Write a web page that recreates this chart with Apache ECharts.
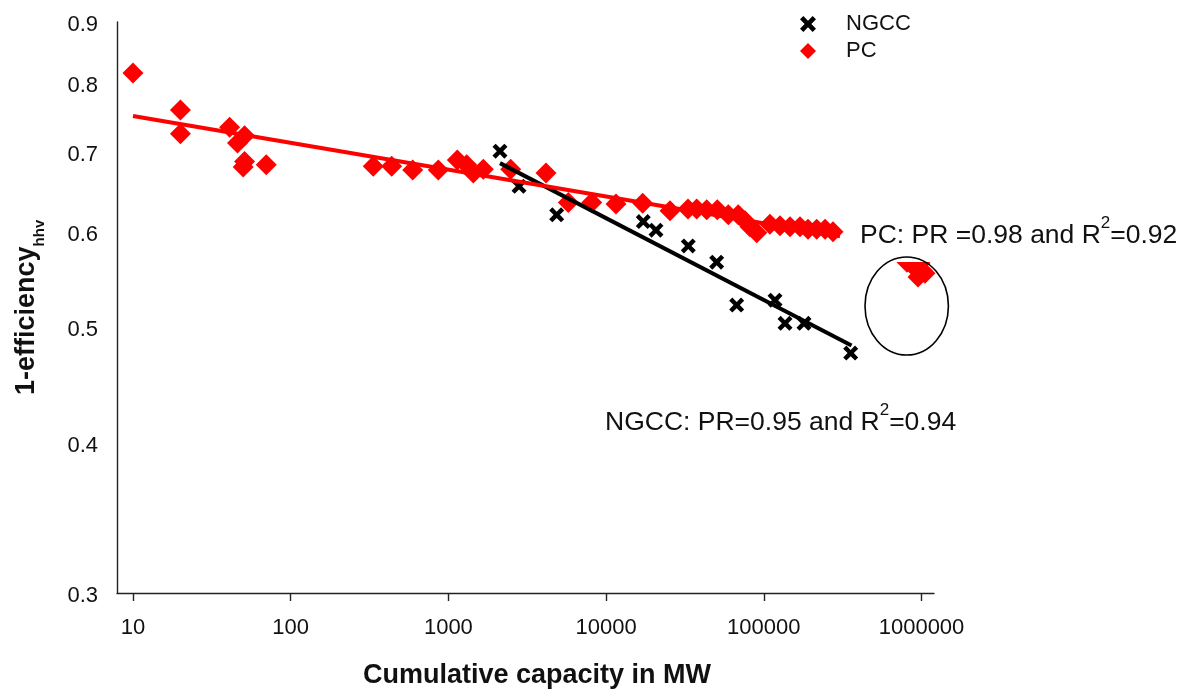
<!DOCTYPE html>
<html>
<head>
<meta charset="utf-8">
<script src="https://cdn.jsdelivr.net/npm/echarts@6/dist/echarts.min.js"></script>
<style>
html,body{margin:0;padding:0;background:#fff;}
#chart{width:1186px;height:691px;}
</style>
</head>
<body>
<div id="chart"></div>
<script>
// ---- data ----
const ngccCapacity = [2124, 2805, 4862, 17210, 20720, 33200, 50250, 67300, 117800, 136300, 179800, 355600];
const ngccValue    = [0.702, 0.656, 0.621, 0.613, 0.603, 0.585, 0.567, 0.522, 0.527, 0.504, 0.504, 0.476];

const pcCapacity = [10, 20, 20, 41, 51, 46, 51, 50, 70, 334, 437, 594, 863, 1139, 1306, 1439, 1665, 2483, 4159,
  5758, 8107, 11560, 17060, 25420, 33050, 37530, 43450, 50720, 59570, 68890, 76000, 81700, 90200, 109400,
  126700, 146600, 169700, 190600, 216500, 244500, 274700,
  809000, 871000, 923000, 978000, 950000, 1007000, 1052000];
const pcValue = [0.816, 0.760, 0.726, 0.735, 0.723, 0.713, 0.688, 0.681, 0.684, 0.682, 0.682, 0.677, 0.677, 0.690,
  0.684, 0.673, 0.678, 0.678, 0.673, 0.636, 0.636, 0.634, 0.635, 0.626, 0.628, 0.628, 0.627, 0.627, 0.621,
  0.621, 0.614, 0.607, 0.600, 0.610, 0.608, 0.607, 0.607, 0.604, 0.604, 0.604, 0.601,
  0.567, 0.564, 0.561, 0.566, 0.551, 0.558, 0.555];

const pcFitCapacity = [10, 304000];
const pcFitValue    = [0.751, 0.596];
const ngccFitCapacity = [2124, 360000];
const ngccFitValue    = [0.686, 0.483];

const xTicks = [10, 100, 1000, 10000, 100000, 1000000];
const yTicks = [0.3, 0.4, 0.5, 0.6, 0.7, 0.8, 0.9];

const xAxisTitle = 'Cumulative capacity in MW';
const yAxisTitleMain = '1-efficiency';
const yAxisTitleSub = 'hhv';
const pcNote = ['PC: PR =0.98 and R', '2', '=0.92'];
const ngccNote = ['NGCC: PR=0.95 and R', '2', '=0.94'];

// ---- chart ----
const FONT = '"Liberation Sans", Arial, sans-serif';
const xPath = 'path://M0,2.1 L2.1,0 L5,2.9 L7.9,0 L10,2.1 L7.1,5 L10,7.9 L7.9,10 L5,7.1 L2.1,10 L0,7.9 L2.9,5 Z';
const zip = (a, b) => a.map((v, i) => [v, b[i]]);

const chart = echarts.init(document.getElementById('chart'), null, {renderer: 'canvas'});
const noteRich = {
  t: {fontFamily: FONT, fontSize: 26.5, lineHeight: 34, verticalAlign: 'bottom', fill: '#111'},
  s: {fontFamily: FONT, fontSize: 17, lineHeight: 17, verticalAlign: 'top', fill: '#111'}
};
const option = {
  animation: false,
  backgroundColor: '#fff',
  textStyle: {fontFamily: FONT},
  grid: {left: 117, right: 252, top: 22, bottom: 98, containLabel: false},
  legend: {
    orient: 'vertical',
    left: 800, top: 13, padding: 0,
    itemWidth: 16, itemHeight: 16, itemGap: 5,
    data: [{name: 'NGCC', icon: xPath, itemStyle: {opacity: 1}}, {name: 'PC', icon: 'diamond', itemStyle: {opacity: 1}}],
    textStyle: {fontFamily: FONT, fontSize: 22, color: '#111', lineHeight: 22, padding: [0, 0, 0, 25]}
  },
  xAxis: {
    type: 'log', logBase: 10, min: 7.92, max: 1200000,
    axisLine: {show: true, lineStyle: {color: '#222', width: 1.4}},
    axisTick: {show: true, inside: false, length: 8, lineStyle: {color: '#222', width: 1.4}, customValues: xTicks},
    axisLabel: {customValues: xTicks, margin: 24, fontSize: 22, color: '#111', fontFamily: FONT,
      formatter: v => String(Math.round(v))},
    splitLine: {show: false}, minorTick: {show: false}
  },
  yAxis: {
    type: 'log', logBase: 10, min: 0.3, max: 0.9,
    axisLine: {show: true, lineStyle: {color: '#222', width: 1.4}},
    axisTick: {show: false},
    axisLabel: {customValues: yTicks, margin: 19, fontSize: 22, color: '#111', fontFamily: FONT,
      formatter: v => '{v|' + Number(v).toFixed(1) + '}',
      rich: {v: {fontFamily: FONT, fontSize: 22, color: '#111', lineHeight: 22, padding: [5, 0, 0, 0]}}},
    splitLine: {show: false}
  },
  series: [
    {name: 'NGCC', type: 'scatter', symbol: xPath, symbolSize: 15, itemStyle: {color: '#000', opacity: 1},
      data: zip(ngccCapacity, ngccValue), z: 2},
    {name: 'PC', type: 'scatter', symbol: 'diamond', symbolSize: 21, itemStyle: {color: '#ff0000', opacity: 1},
      data: zip(pcCapacity, pcValue), z: 3},
    {name: 'NGCC fit', type: 'line', showSymbol: false, symbol: 'none', lineStyle: {color: '#000', width: 4},
      data: zip(ngccFitCapacity, ngccFitValue), z: 4},
    {name: 'PC fit', type: 'line', showSymbol: false, symbol: 'none', lineStyle: {color: '#ff0000', width: 4},
      data: zip(pcFitCapacity, pcFitValue), z: 5}
  ],
  graphic: [
    {type: 'rect', z: 90, shape: {x: 848, y: 205, width: 338, height: 57}, style: {fill: '#fff'}},
    {type: 'text', z: 100, x: 860, y: 215, style: {
      text: '{t|' + pcNote[0] + '}{s|' + pcNote[1] + '}{t|' + pcNote[2] + '}',
      align: 'left', verticalAlign: 'top', rich: noteRich}},
    {type: 'text', z: 100, x: 605, y: 402, style: {
      text: '{t|' + ngccNote[0] + '}{s|' + ngccNote[1] + '}{t|' + ngccNote[2] + '}',
      align: 'left', verticalAlign: 'top', rich: noteRich}},
    {type: 'ellipse', z: 110, shape: {cx: 906.7, cy: 306, rx: 41.7, ry: 49},
      style: {fill: 'none', stroke: '#000', lineWidth: 1.6}},
    {type: 'text', z: 100, x: 537, y: 676, style: {
      text: xAxisTitle, align: 'center', verticalAlign: 'middle',
      fontFamily: FONT, fontSize: 27, fontWeight: 'bold', fill: '#111'}},
    {type: 'text', z: 100, x: 13, y: 395, rotation: Math.PI / 2, style: {
      text: '{a|' + yAxisTitleMain + '}{b|' + yAxisTitleSub + '}',
      align: 'left', verticalAlign: 'top',
      rich: {
        a: {fontFamily: FONT, fontSize: 27, fontWeight: 'bold', lineHeight: 30, verticalAlign: 'top', fill: '#111'},
        b: {fontFamily: FONT, fontSize: 15, fontWeight: 'bold', lineHeight: 15, verticalAlign: 'top', padding: [19, 0, 0, 0], fill: '#111'}
      }}}
  ]
};
chart.setOption(option);
</script>
</body>
</html>
